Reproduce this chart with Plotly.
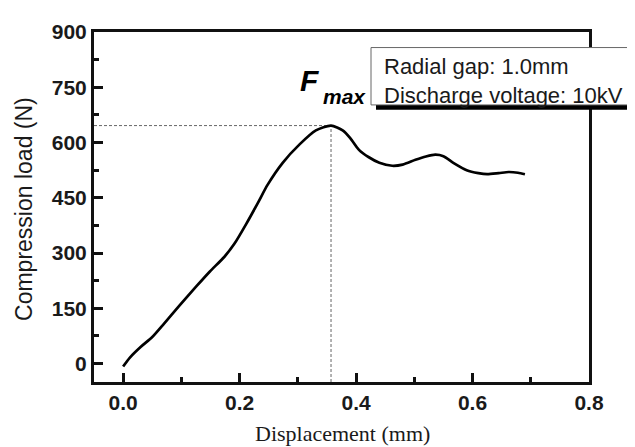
import plotly.graph_objects as go

# ---- data ----
displacement = [0.0, 0.012, 0.03, 0.05, 0.07, 0.097, 0.126, 0.149, 0.174, 0.191, 0.211, 0.231,
                0.248, 0.274, 0.303, 0.331, 0.357, 0.377, 0.39, 0.405, 0.422, 0.44, 0.462, 0.48,
                0.502, 0.52, 0.536, 0.55, 0.567, 0.59, 0.61, 0.625, 0.645, 0.662, 0.678, 0.69]
load = [-8, 17, 45, 72, 108, 158, 210, 250, 290, 325, 378, 435,
        485, 545, 595, 633, 646, 633, 612, 580, 560, 545, 537, 540,
        553, 562, 567, 563, 545, 525, 517, 514, 517, 520, 518, 514]

x_ticks = [0.0, 0.2, 0.4, 0.6, 0.8]
x_tick_labels = ["0.0", "0.2", "0.4", "0.6", "0.8"]
y_ticks = [0, 150, 300, 450, 600, 750, 900]
y_tick_labels = ["0", "150", "300", "450", "600", "750", "900"]

info_lines = ["Radial gap: 1.0mm", "Discharge voltage: 10kV"]

# peak from data
i_max = max(range(len(load)), key=lambda i: load[i])
x_peak, y_peak = displacement[i_max], load[i_max]

W, H = 635, 447
OFF = 8  # default page body margin
# plot frame in page pixels
PL, PR, PT, PB = 94, 589, 22, 382
L, R, T, B = PL - OFF, PR - OFF, PT - OFF, PB - OFF


def px2x(px):
    return (px - PL) / (PR - PL)


def py2y(py):
    return (PB - py) / (PB - PT)


fig = go.Figure()
fig.add_trace(go.Scatter(x=displacement, y=load, mode="lines",
                         line=dict(color="black", width=2.7, shape="spline", smoothing=0.7),
                         showlegend=False, hoverinfo="skip"))

dash_style = dict(color="#666", width=1, dash="3px,2px")
fig.add_shape(type="line", xref="x", yref="y", x0=-0.05, x1=x_peak, y0=y_peak, y1=y_peak,
              line=dash_style, layer="below")
fig.add_shape(type="line", xref="x", yref="y", x0=x_peak, x1=x_peak, y0=-50, y1=y_peak,
              line=dash_style, layer="below")

# info box with shadow
fig.add_shape(type="rect", xref="paper", yref="paper",
              x0=px2x(376), x1=px2x(640), y0=py2y(102), y1=py2y(43),
              fillcolor="black", line=dict(width=0), layer="above")
fig.add_shape(type="rect", xref="paper", yref="paper",
              x0=px2x(371), x1=px2x(633), y0=py2y(97), y1=py2y(38),
              fillcolor="white", line=dict(color="#666", width=1), layer="above")

base_font = "Arial, Liberation Sans, Helvetica, sans-serif"
for txt, yc in zip(info_lines, [58, 87]):
    fig.add_annotation(xref="paper", yref="paper", x=px2x(382), y=py2y(yc),
                       xanchor="left", yanchor="middle", showarrow=False, text=txt,
                       font=dict(family=base_font, size=22, color="#1a1a1a"))

# F_max label
fig.add_annotation(xref="paper", yref="paper", x=px2x(298), y=py2y(72),
                   xanchor="left", yanchor="middle", showarrow=False,
                   text="<b><i>F</i></b>", font=dict(family=base_font, size=30, color="black"))
fig.add_annotation(xref="paper", yref="paper", x=px2x(321), y=py2y(88),
                   xanchor="left", yanchor="middle", showarrow=False,
                   text="<b><i>max</i></b>", font=dict(family=base_font, size=21, color="black"))

# axis titles
fig.add_annotation(xref="paper", yref="paper", x=px2x(24), y=py2y(204),
                   xanchor="center", yanchor="middle", showarrow=False, textangle=-90,
                   text="Compression load (N)", font=dict(family=base_font, size=23, color="#1a1a1a"))
fig.add_annotation(xref="paper", yref="paper", x=px2x(342), y=py2y(435),
                   xanchor="center", yanchor="middle", showarrow=False,
                   text="Displacement (mm)",
                   font=dict(family="Times New Roman, Liberation Serif, serif", size=22, color="#1a1a1a"))

axis_common = dict(showline=True, linecolor="#111", linewidth=3, mirror=True,
                   ticks="inside", ticklen=9, tickwidth=2.5, tickcolor="#111",
                   showgrid=False, zeroline=False,
                   tickfont=dict(family=base_font, size=21, color="#1a1a1a", weight="bold"))

fig.update_xaxes(range=[-0.05, 0.8], tickvals=x_ticks, ticktext=x_tick_labels,
                 minor=dict(dtick=0.1, tick0=0, ticks="inside", ticklen=5, tickwidth=2.5, tickcolor="#111"),
                 **axis_common)
fig.update_yaxes(range=[-50, 900], tickvals=y_ticks, ticktext=y_tick_labels,
                 minor=dict(dtick=75, tick0=0, ticks="inside", ticklen=5, tickwidth=2.5, tickcolor="#111"),
                 **axis_common)

fig.update_layout(width=W, height=H, margin=dict(l=L, r=W - R, t=T, b=H - B, pad=0),
                  plot_bgcolor="white", paper_bgcolor="white", showlegend=False)

fig.write_html("out.html")
